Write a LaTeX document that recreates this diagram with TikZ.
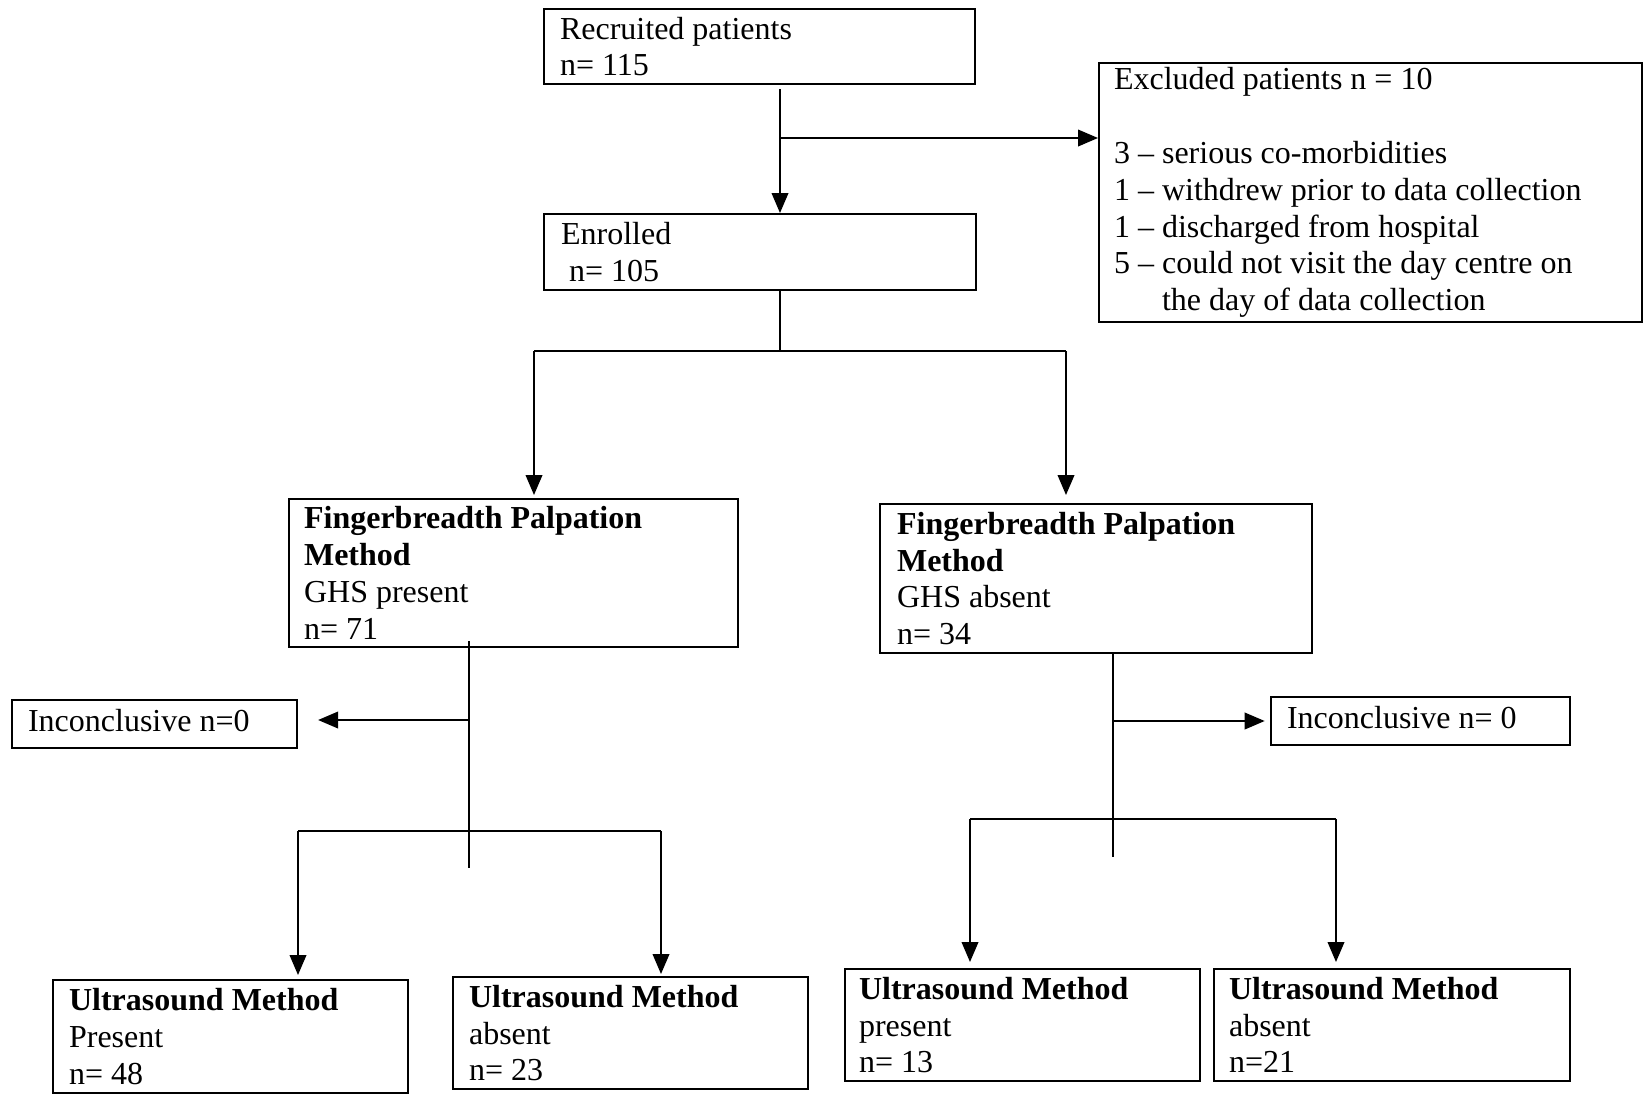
\documentclass[tikz,border=0pt]{standalone}
\usepackage{fontspec}
\setmainfont{Liberation Serif}
\usetikzlibrary{arrows.meta}
\begin{document}
\begin{tikzpicture}[x=0.75pt,y=-0.75pt,
  mybox/.style={draw,line width=1.6pt,anchor=north west,align=flush left,inner ysep=0pt,
    font=\fontsize{24pt}{27.6pt}\selectfont},
  conn/.style={line width=1.3pt},
  arr/.style={line width=1.3pt,-{Triangle[length=15pt,width=12.5pt]}}]
\useasboundingbox (0,0) rectangle (1643,1093);

\node[mybox,minimum width=323.25pt,minimum height=56.25pt,text width=299.25pt,inner xsep=12pt] (rec) at (543,8)
  {Recruited patients\\n= 115};
\node[mybox,minimum width=407.25pt,minimum height=194.25pt,text width=384.75pt,inner xsep=11.25pt] (exc) at (1098,62)
  {Excluded patients n = 10\\[27.6pt]3 – serious co-morbidities\\1 – withdrew prior to data collection\\1 – discharged from hospital\\5 – could not visit the day centre on\\\hphantom{5 – }the day of data collection};
\node[mybox,minimum width=324pt,minimum height=57pt,text width=298.5pt,inner xsep=12.75pt] (enr) at (543,213)
  {Enrolled\\\hspace*{0.25em}n= 105};
\node[mybox,minimum width=336.75pt,minimum height=111pt,text width=314.25pt,inner xsep=11.25pt] (fpL) at (288,498)
  {\textbf{Fingerbreadth Palpation}\\\textbf{Method}\\GHS present\\n= 71};
\node[mybox,minimum width=324pt,minimum height=111.75pt,text width=298.5pt,inner xsep=12.75pt] (fpR) at (879,503)
  {\textbf{Fingerbreadth Palpation}\\\textbf{Method}\\GHS absent\\n= 34};
\node[mybox,minimum width=213.75pt,minimum height=36pt,text width=189.75pt,inner xsep=12pt,text depth=5pt] (incL) at (11,699)
  {Inconclusive n=0};
\node[mybox,minimum width=224.25pt,minimum height=36pt,text width=200.25pt,inner xsep=12pt,text depth=5pt] (incR) at (1270,696)
  {Inconclusive n= 0};
\node[mybox,minimum width=266.25pt,minimum height=84.75pt,text width=242.25pt,inner xsep=12pt] (us1) at (52,979)
  {\textbf{Ultrasound Method}\\Present\\n= 48};
\node[mybox,minimum width=266.25pt,minimum height=84pt,text width=242.25pt,inner xsep=12pt] (us2) at (452,976)
  {\textbf{Ultrasound Method}\\absent\\n= 23};
\node[mybox,minimum width=266.25pt,minimum height=84pt,text width=245.25pt,inner xsep=10.5pt] (us3) at (844,968)
  {\textbf{Ultrasound Method}\\present\\n= 13};
\node[mybox,minimum width=267pt,minimum height=84pt,text width=244.5pt,inner xsep=11.25pt] (us4) at (1213,968)
  {\textbf{Ultrasound Method}\\absent\\n=21};

% recruited -> enrolled / excluded
\coordinate (c1) at (780,138);
\draw[arr] ([yshift=-3pt]rec.south -| c1) -- (enr.north -| c1);
\draw[arr] (c1) -- (c1 -| exc.west);

% enrolled -> two palpation groups
\coordinate (c2) at (780,351);
\coordinate (jL) at (534,351);
\coordinate (jR) at (1066,351);
\draw[conn] (enr.south -| c2) -- (c2);
\draw[conn] (jL) -- (jR);
\draw[arr,shorten >=2.25pt] (jL) -- (jL |- fpL.north);
\draw[arr,shorten >=6pt] (jR) -- (jR |- fpR.north);

% left palpation branch
\coordinate (tL) at (469,641);
\coordinate (eL) at (469,868);
\coordinate (iL) at (469,720);
\draw[conn] (tL) -- (eL);
\draw[arr,shorten >=15pt] (iL) -- (iL -| incL.east);
\coordinate (bL) at (298,831);
\coordinate (bR) at (661,831);
\draw[conn] (bL) -- (bR);
\draw[arr,shorten >=3pt] (bL) -- (bL |- us1.north);
\draw[arr,shorten >=1.5pt] (bR) -- (bR |- us2.north);

% right palpation branch
\coordinate (eR) at (1113,857);
\coordinate (iR) at (1113,721);
\draw[conn] (fpR.south -| eR) -- (eR);
\draw[arr,shorten >=4pt] (iR) -- (iR -| incR.west);
\coordinate (bL2) at (970,819);
\coordinate (bR2) at (1336,819);
\draw[conn] (bL2) -- (bR2);
\draw[arr,shorten >=4.5pt] (bL2) -- (bL2 |- us3.north);
\draw[arr,shorten >=4.5pt] (bR2) -- (bR2 |- us4.north);
\end{tikzpicture}
\end{document}
